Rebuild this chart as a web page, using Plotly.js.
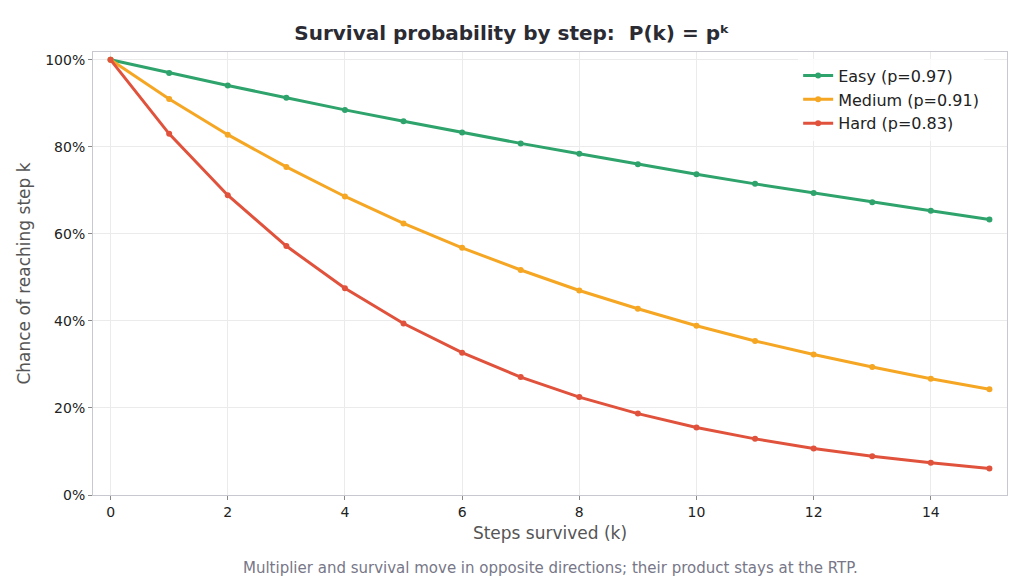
<!DOCTYPE html>
<html>
<head>
<script src="https://cdn.plot.ly/plotly-3.0.1.min.js"></script>
<style>body{margin:0}#chart{width:1024px;height:577px}</style>
</head>
<body>
<div id="chart"></div>
<script>
// steps and survival chance
let steps = [0,1,2,3,4,5,6,7,8,9,10,11,12,13,14,15];
let easy = [1,0.97,0.941,0.913,0.885,0.859,0.833,0.808,0.784,0.760,0.737,0.715,0.694,0.673,0.653,0.633];
let medium = [1,0.91,0.828,0.754,0.686,0.624,0.568,0.517,0.470,0.428,0.389,0.354,0.323,0.294,0.267,0.243];
let hard = [1,0.83,0.689,0.572,0.475,0.394,0.327,0.271,0.225,0.187,0.155,0.129,0.107,0.089,0.074,0.061];

function trace(y, name, color){
    return {x: steps, y: y, type: 'scatter', mode: 'lines+markers', name: name,
        line: {color: color, width: 3}, marker: {color: color, size: 6}};
}

let graph = [
    trace(easy, 'Easy (p=0.97)', '#2ea36b'),
    trace(medium, 'Medium (p=0.91)', '#f5a623'),
    trace(hard, 'Hard (p=0.83)', '#e0523c')
];

let layout = {
    width: 1024, height: 577,
    margin: {l: 93, r: 17, t: 52, b: 82},
    font: {family: 'DejaVu Sans', size: 14, color: '#222'},
    paper_bgcolor: 'white', plot_bgcolor: 'white',
    title: {text: '<b>Survival probability by step:  P(k) = pᵏ</b>', x: 0.5, y: 0.955,
        font: {size: 20, color: '#2b2b33'}},
    xaxis: {range: [-0.3, 15.3], dtick: 2, showgrid: true, gridcolor: '#ebebeb', zeroline: false,
        showline: true, linecolor: '#c8c8d0', mirror: true, ticks: 'outside', ticklen: 4, tickcolor: '#888',
        title: {text: 'Steps survived (k)', font: {size: 17, color: '#555'}, standoff: 8}},
    yaxis: {range: [0, 1.018], tickvals: [0,0.2,0.4,0.6,0.8,1], tickformat: '.0%',
        showgrid: true, gridcolor: '#ebebeb', zeroline: false,
        showline: true, linecolor: '#c8c8d0', mirror: true, ticks: 'outside', ticklen: 4, tickcolor: '#888',
        title: {text: 'Chance of reaching step k', font: {size: 17, color: '#555'}, standoff: 10}},
    legend: {x: 0.975, y: 0.985, xanchor: 'right', yanchor: 'top', bgcolor: 'rgba(255,255,255,0.8)',
        font: {size: 16}},
    annotations: [{text: 'Multiplier and survival move in opposite directions; their product stays at the RTP.',
        xref: 'paper', yref: 'paper', x: 0.5, y: -0.165, showarrow: false, yanchor: 'middle',
        font: {size: 15, color: '#777788'}}]
};

Plotly.newPlot('chart', graph, layout, {displayModeBar: false});
</script>
</body>
</html>
